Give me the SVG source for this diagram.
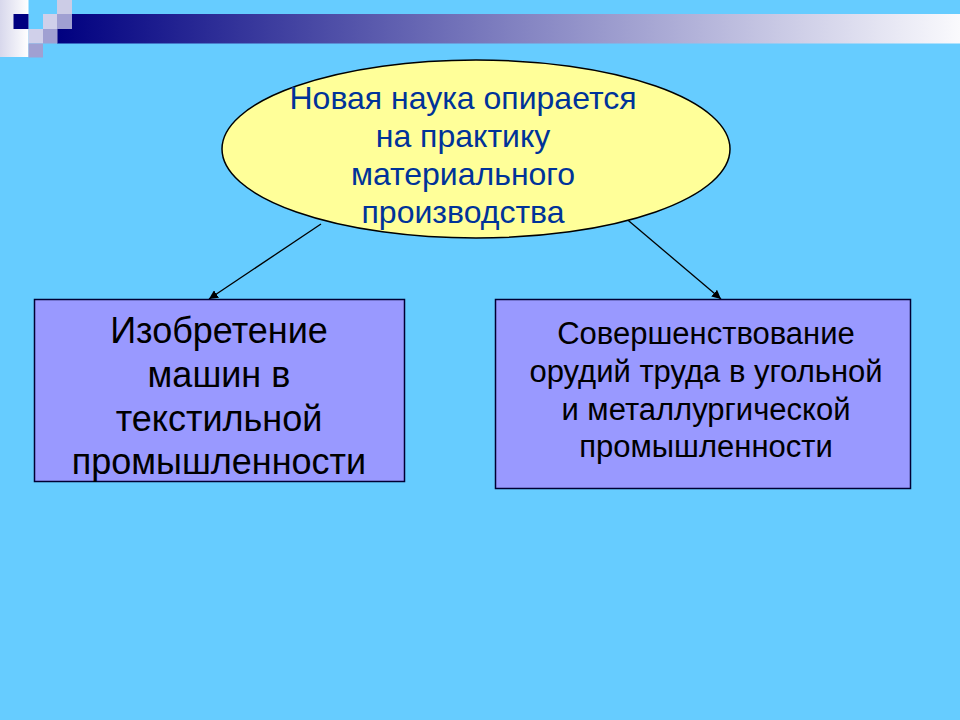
<svg xmlns="http://www.w3.org/2000/svg" width="960" height="720" viewBox="0 0 960 720">
<defs>
<linearGradient id="bar" x1="0" y1="0" x2="1" y2="0">
<stop offset="0" stop-color="#000080"/>
<stop offset="0.5" stop-color="#8080C0"/>
<stop offset="1" stop-color="#FAFAFD"/>
</linearGradient>
<linearGradient id="wcol" x1="0" y1="0" x2="1" y2="0">
<stop offset="0" stop-color="#D8D8EC"/>
<stop offset="1" stop-color="#FFFFFF"/>
</linearGradient>
<marker id="ah" viewBox="0 0 10 10" refX="10" refY="5" markerWidth="9" markerHeight="9" markerUnits="userSpaceOnUse" orient="auto">
<path d="M0,0 L10,5 L0,10 z" fill="#000"/>
</marker>
<style>
.box{fill:#9999FF;stroke:#000033;stroke-width:1.5}
.ell{fill:#FFFF99;stroke:#000;stroke-width:1.5}
.t{font-family:"Liberation Sans",Arial,sans-serif;text-anchor:middle}
.conn{stroke:#000;stroke-width:1.3;fill:none;marker-end:url(#ah)}
</style>
</defs>
<rect width="960" height="720" fill="#66CCFF"/>
<g id="header">
<rect x="57" y="14" width="903" height="29.5" fill="url(#bar)"/>
<rect x="0" y="0" width="28.5" height="57" fill="url(#wcol)"/>
<rect x="13.5" y="14" width="15" height="15" fill="#000080"/>
<rect x="43" y="14" width="14.5" height="15" fill="#D0D0EA"/>
<rect x="57" y="0" width="15" height="14" fill="#CCCCE6"/>
<rect x="57" y="14" width="15" height="15" fill="#A0A0D2"/>
<rect x="28.5" y="29" width="14.5" height="14.5" fill="#D0D0EA"/>
<rect x="43" y="29" width="14.5" height="14.5" fill="#A0A0D2"/>
<rect x="28.5" y="43.5" width="14.5" height="14" fill="#A0A0D2"/>
</g>
<g id="connectors">
<line class="conn" x1="321" y1="224" x2="209" y2="299"/>
<line class="conn" x1="623" y1="216" x2="721" y2="299"/>
</g>
<g id="node-top">
<ellipse class="ell" cx="476" cy="149" rx="254" ry="89"/>
<text class="t" font-size="32" fill="#003399"><tspan x="463" y="109">Новая наука опирается</tspan><tspan x="463" y="147">на практику</tspan><tspan x="463" y="185">материального</tspan><tspan x="463" y="223">производства</tspan></text>
</g>
<g id="node-left">
<rect class="box" x="34.5" y="299.5" width="370" height="182"/>
<text class="t" font-size="36" fill="#000"><tspan x="219" y="343">Изобретение</tspan><tspan x="219" y="387">машин в</tspan><tspan x="219" y="431">текстильной</tspan><tspan x="219" y="474">промышленности</tspan></text>
</g>
<g id="node-right">
<rect class="box" x="495.5" y="299.5" width="415" height="189"/>
<text class="t" font-size="31" fill="#000"><tspan x="706" y="344">Совершенствование</tspan><tspan x="706" y="382">орудий труда в угольной</tspan><tspan x="706" y="420">и металлургической</tspan><tspan x="706" y="457">промышленности</tspan></text>
</g>
</svg>
